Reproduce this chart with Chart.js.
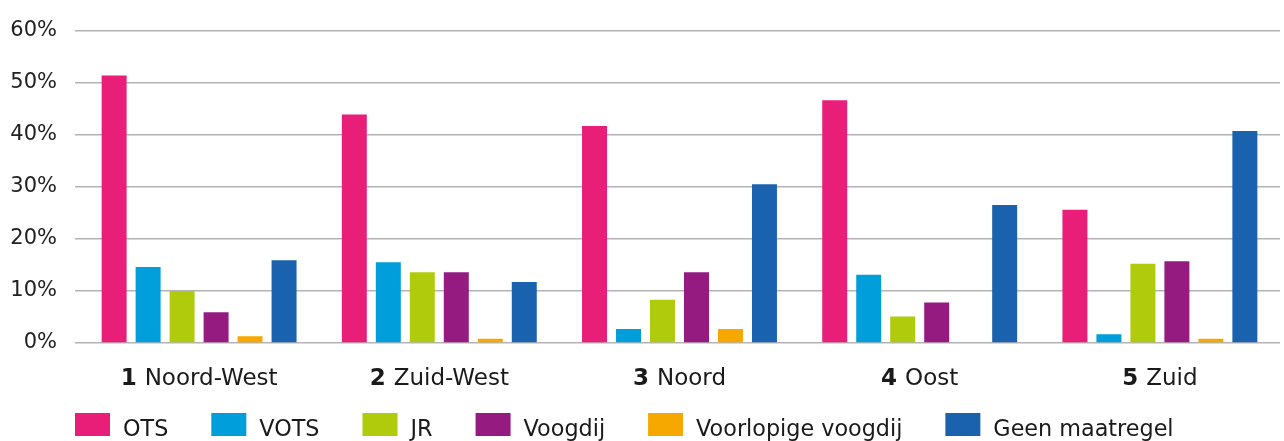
<!DOCTYPE html>
<html>
<head>
<meta charset="utf-8">
<script src="https://cdn.jsdelivr.net/npm/chart.js@4/dist/chart.umd.min.js"></script>
<style>
  html, body { margin: 0; padding: 0; background: #ffffff; }
  #wrap { width: 1284px; height: 441px; position: relative; }
</style>
</head>
<body>
<div id="wrap"><canvas id="c"></canvas></div>
<script>
// ---- data ----
const categoryNumbers = ['1', '2', '3', '4', '5'];
const categories = ['Noord-West', 'Zuid-West', 'Noord', 'Oost', 'Zuid'];
const seriesNames = ['OTS', 'VOTS', 'JR', 'Voogdij', 'Voorlopige voogdij', 'Geen maatregel'];
const ots = [51.4, 43.9, 41.7, 46.6, 25.6];
const vots = [14.6, 15.5, 2.7, 13.1, 1.7];
const jr = [10.0, 13.6, 8.3, 5.1, 15.2];
const voogdij = [5.9, 13.6, 13.6, 7.8, 15.7];
const voorlopigeVoogdij = [1.3, 0.8, 2.7, 0, 0.8];
const geenMaatregel = [15.9, 11.7, 30.5, 26.5, 40.7];
const yTickValues = [0, 10, 20, 30, 40, 50, 60];

// ---- styles / layout ----
const colors = ['#E81E78', '#009EDB', '#B0CB0C', '#951B81', '#F7A800', '#1B62AE'];
const FONT = '"DejaVu Sans", sans-serif';
const TEXT_COLOR = '#1a1a1a';

const seriesValues = [ots, vots, jr, voogdij, voorlopigeVoogdij, geenMaatregel];

const textPlugin = {
  id: 'textPlugin',
  afterDraw(chart) {
    const ctx = chart.ctx;
    const xs = chart.scales.x;
    ctx.save();
    ctx.textBaseline = 'alphabetic';
    ctx.textAlign = 'left';
    ctx.fillStyle = TEXT_COLOR;
    // x category labels: bold number + regular name, centred on category
    const numFont = 'bold 23px ' + FONT;
    const nameFont = '23px ' + FONT;
    const gap = 8;
    categories.forEach((name, i) => {
      ctx.font = numFont;
      const wNum = ctx.measureText(categoryNumbers[i]).width;
      ctx.font = nameFont;
      const wName = ctx.measureText(name).width;
      const cx = xs.getPixelForValue(i);
      let x = cx - (wNum + gap + wName) / 2;
      ctx.font = numFont;
      ctx.fillText(categoryNumbers[i], x, 385);
      ctx.font = nameFont;
      ctx.fillText(name, x + wNum + gap, 385);
    });
    // legend: flowing row of swatch + label
    ctx.font = '22.3px ' + FONT;
    let x = 75;
    chart.data.datasets.forEach((ds) => {
      ctx.fillStyle = ds.backgroundColor;
      ctx.fillRect(x, 413, 35, 23);
      ctx.fillStyle = TEXT_COLOR;
      ctx.fillText(ds.label, x + 48, 436);
      x += 48 + ctx.measureText(ds.label).width + 43;
    });
    ctx.restore();
  }
};

new Chart(document.getElementById('c'), {
  type: 'bar',
  data: {
    labels: categories,
    datasets: seriesNames.map((n, i) => ({
      label: n,
      data: seriesValues[i],
      backgroundColor: colors[i],
      borderWidth: 0,
      categoryPercentage: 0.849,
      barPercentage: 0.735
    }))
  },
  options: {
    responsive: true,
    maintainAspectRatio: false,
    animation: false,
    layout: { padding: { top: 27, right: 4, bottom: 98, left: 0 } },
    plugins: { legend: { display: false }, tooltip: { enabled: false } },
    scales: {
      x: { display: false },
      y: {
        min: 0, max: 60,
        afterBuildTicks(scale) { scale.ticks = yTickValues.map(v => ({ value: v })); },
        afterFit(scale) { scale.width = 79; },
        border: { display: false },
        grid: { color: '#b3b3b3', lineWidth: 1.5, drawTicks: true, tickLength: 4 },
        ticks: {
          padding: 18,
          color: '#222222',
          font: { family: FONT, size: 21 },
          callback: v => v + '%'
        }
      }
    }
  },
  plugins: [textPlugin]
});
</script>
</body>
</html>
